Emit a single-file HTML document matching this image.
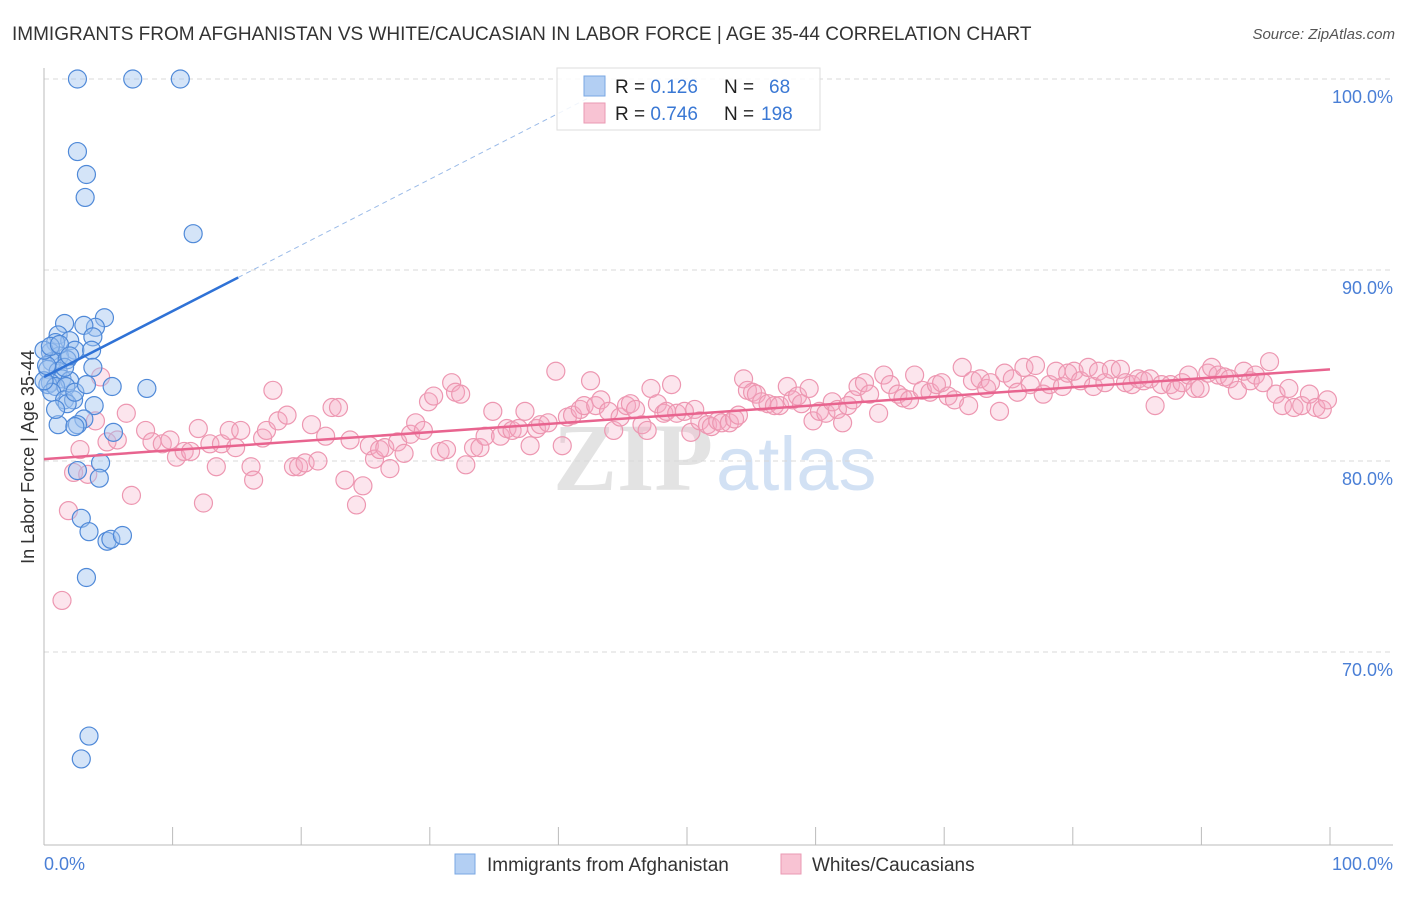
<!DOCTYPE html>
<html><head><meta charset="utf-8"><style>
html,body{margin:0;padding:0;background:#fff;}
body{width:1406px;height:892px;overflow:hidden;font-family:"Liberation Sans",sans-serif;}
</style></head><body>
<svg id="chart" width="1406" height="892" xmlns="http://www.w3.org/2000/svg" font-family="Liberation Sans, sans-serif">
<text x="12" y="40" font-size="19" fill="#333">IMMIGRANTS FROM AFGHANISTAN VS WHITE/CAUCASIAN IN LABOR FORCE | AGE 35-44 CORRELATION CHART</text>
<text x="1395" y="39" font-size="15" font-style="italic" fill="#555" text-anchor="end">Source: ZipAtlas.com</text>
<g>
<text x="553" y="490" font-size="96" font-weight="bold" fill="#ddd" opacity="0.8" font-family="Liberation Serif, serif">ZIP</text>
<text x="716" y="490" font-size="76" fill="#c8daf2" opacity="0.8">atlas</text>
</g>
<g id="grid"></g>
<g id="axes"></g>
<g id="marks"></g>
<text transform="translate(34,457) rotate(-90)" font-size="18" fill="#333" text-anchor="middle">In Labor Force | Age 35-44</text>
<g>
<rect x="557" y="68" width="263" height="62" fill="#fff" fill-opacity="0.85" stroke="#ddd"/>
<rect x="584" y="76" width="21" height="20" fill="#b3cff3" stroke="#7aa7e3"/>
<rect x="584" y="103" width="21" height="20" fill="#f8c3d3" stroke="#ea9ab3"/>
<text x="615" y="93" font-size="19" fill="#222">R = <tspan fill="#3a78d4">0.126</tspan><tspan x="724">N = </tspan><tspan x="769" fill="#3a78d4">68</tspan></text>
<text x="615" y="120" font-size="19" fill="#222">R = <tspan fill="#3a78d4">0.746</tspan><tspan x="724">N = </tspan><tspan x="761" fill="#3a78d4">198</tspan></text>
</g>
<g>
<rect x="455" y="854" width="20" height="20" fill="#b3cff3" stroke="#7aa7e3"/>
<text x="487" y="871" font-size="19" fill="#333">Immigrants from Afghanistan</text>
<rect x="781" y="854" width="20" height="20" fill="#f8c3d3" stroke="#ea9ab3"/>
<text x="812" y="871" font-size="19" fill="#333">Whites/Caucasians</text>
</g>
</svg>
<script>
const blueX=[2.6,6.9,10.6,2.6,3.3,3.2,11.6,4.7,1.6,4.0,3.1,1.1,2.0,3.8,0.9,2.4,3.7,0.5,1.2,0.6,1.8,3.8,0.3,1.1,1.4,0.5,2.0,0.3,0.9,1.7,5.3,8.0,0.6,1.6,2.3,3.9,1.8,3.1,1.1,2.6,2.4,5.4,4.4,2.6,4.3,2.9,3.5,4.9,5.2,6.1,3.3,3.5,2.9,0,0.2,0,0.5,1.2,1.6,2.4,0.9,2.0,3.3];
const blueY=[100,100,100,96.2,95.0,93.8,91.9,87.5,87.2,87.0,87.1,86.6,86.3,86.5,86.2,85.8,85.8,85.7,85.5,85.2,85.3,84.9,84.8,84.7,84.3,84.1,84.2,84.0,83.9,83.9,83.9,83.8,83.6,83.2,83.2,82.9,83.0,82.2,81.9,81.9,81.8,81.5,79.9,79.5,79.1,77.0,76.3,75.8,75.9,76.1,73.9,65.6,64.4,84.2,85.0,85.8,86.0,86.1,84.9,83.6,82.7,85.5,84.0];
const pinkX=[1.4,1.9,2.3,2.8,3.4,4.0,4.4,4.9,5.7,6.4,6.8,7.9,8.4,9.2,9.8,10.3,10.9,11.4,12.0,12.4,12.9,13.4,13.8,14.4,14.9,15.3,16.1,16.3,17.0,17.3,17.8,18.2,18.9,19.4,19.8,20.3,20.8,21.3,21.9,22.4,22.9,23.4,23.8,24.3,24.8,25.3,25.7,26.1,26.5,26.9,27.5,28.0,28.5,28.9,29.5,29.9,30.3,30.8,31.3,31.7,32.0,32.4,32.8,33.4,33.9,34.3,34.9,35.5,36.0,36.4,36.9,37.4,37.8,38.3,38.6,39.2,39.8,40.3,40.7,41.1,41.7,42.0,42.5,42.9,43.3,43.9,44.3,44.8,45.3,45.6,46.0,46.5,46.9,47.2,47.7,48.2,48.4,48.8,49.2,49.8,50.3,50.6,51.0,51.6,51.9,52.4,52.7,53.3,53.7,54.0,54.4,54.7,55.1,55.4,55.8,56.3,56.8,57.2,57.8,58.2,58.6,58.9,59.5,59.8,60.3,60.8,61.3,61.7,62.1,62.5,62.9,63.3,63.8,64.2,64.9,65.3,65.8,66.4,66.8,67.3,67.7,68.3,68.9,69.4,69.8,70.3,70.8,71.4,71.9,72.2,72.8,73.3,73.6,74.3,74.7,75.3,75.7,76.2,76.7,77.1,77.7,78.2,78.7,79.2,79.6,80.1,80.6,81.2,81.6,82.0,82.5,83.0,83.7,84.1,84.6,85.1,85.5,86.0,86.4,86.9,87.6,88.0,88.5,89.0,89.5,89.9,90.5,90.8,91.3,91.8,92.2,92.8,93.3,93.8,94.2,94.8,95.3,95.8,96.3,96.8,97.2,97.8,98.4,98.9,99.4,99.8];
const pinkY=[72.7,77.4,79.4,80.6,79.3,82.1,84.4,81.0,81.1,82.5,78.2,81.6,81.0,80.9,81.1,80.2,80.5,80.5,81.7,77.8,80.9,79.7,80.9,81.6,80.7,81.6,79.7,79.0,81.2,81.6,83.7,82.1,82.4,79.7,79.7,79.9,81.9,80.0,81.3,82.8,82.8,79.0,81.1,77.7,78.7,80.8,80.1,80.6,80.7,79.6,81.0,80.4,81.4,82.0,81.6,83.1,83.4,80.5,80.6,84.1,83.6,83.5,79.8,80.7,80.7,81.3,82.6,81.3,81.7,81.6,81.7,82.6,80.8,81.7,81.9,82.0,84.7,80.8,82.3,82.4,82.7,82.9,84.2,82.9,83.2,82.6,81.6,82.3,82.9,83.0,82.7,81.9,81.6,83.8,83.0,82.5,82.6,84.0,82.5,82.6,81.5,82.7,82.1,81.9,81.8,82.1,82.0,82.0,82.2,82.4,84.3,83.7,83.6,83.5,83.1,83.0,82.9,82.9,83.9,83.2,83.4,83.0,83.8,82.1,82.6,82.5,83.1,82.7,82.0,82.9,83.2,83.9,84.1,83.5,82.5,84.5,84.0,83.5,83.3,83.2,84.5,83.7,83.6,84.0,84.1,83.4,83.2,84.9,82.9,84.2,84.3,83.8,84.1,82.6,84.6,84.3,83.6,84.9,84.0,85.0,83.5,84.0,84.7,83.9,84.6,84.7,84.2,84.9,83.9,84.7,84.1,84.8,84.8,84.1,84.0,84.3,84.2,84.3,82.9,84.0,84.0,83.7,84.1,84.5,83.8,83.8,84.6,84.9,84.5,84.4,84.3,83.7,84.7,84.2,84.5,84.1,85.2,83.5,82.9,83.8,82.8,82.9,83.5,82.8,82.7,83.2];
const yTicks=[100,90,80,70];
const yTickLabels=["100.0%","90.0%","80.0%","70.0%"];
const xTicks=[0,10,20,30,40,50,60,70,80,90,100];
const xEndLabels=["0.0%","100.0%"];
const blueTrend=[84.4,0.345];
const pinkTrend=[80.1,0.047];

const NS="http://www.w3.org/2000/svg";
const X0=44,X1=1330,Y0=845,YTOP=79;
const sx=v=>X0+(X1-X0)*v/100;
const sy=v=>YTOP+(100-v)*19.1;
function mk(tag,attrs,parent){const e=document.createElementNS(NS,tag);for(const k in attrs)e.setAttribute(k,attrs[k]);parent.appendChild(e);return e;}
const grid=document.getElementById('grid'),axes=document.getElementById('axes'),marks=document.getElementById('marks');
yTicks.forEach((t,i)=>{
  const l=mk('line',{x1:X0,x2:1393,y1:sy(t),y2:sy(t),stroke:'#d8d8d8','stroke-dasharray':'5,4'},grid);
  
  
  const tx=mk('text',{x:1393,y:sy(t)+24,'font-size':18,fill:'#4a7fd6','text-anchor':'end'},axes);
  tx.textContent=yTickLabels[i];
  
  
});
const ya=mk('line',{x1:X0,x2:X0,y1:68,y2:Y0,stroke:'#bbb'},axes);


const xa=mk('line',{x1:X0,x2:1393,y1:Y0,y2:Y0,stroke:'#bbb'},axes);


xTicks.forEach(t=>{
  const l=mk('line',{x1:sx(t),x2:sx(t),y1:827,y2:Y0,stroke:'#bbb'},axes);
  
  
});
const xl0=mk('text',{x:X0,y:870,'font-size':18,fill:'#4a7fd6'},axes);xl0.textContent=xEndLabels[0];


const xl1=mk('text',{x:1393,y:870,'font-size':18,fill:'#4a7fd6','text-anchor':'end'},axes);xl1.textContent=xEndLabels[1];



const n1=Math.min(pinkX.length,pinkY.length);
for(let i=0;i<n1;i++){
  const c=mk('circle',{cx:sx(pinkX[i]),cy:sy(pinkY[i]),r:9,fill:'rgba(244,170,195,0.3)',stroke:'#ed97b1','stroke-width':1.2},marks);
  
  
}
const n2=Math.min(blueX.length,blueY.length);
for(let i=0;i<n2;i++){
  const c=mk('circle',{cx:sx(blueX[i]),cy:sy(blueY[i]),r:9,fill:'rgba(160,196,240,0.45)',stroke:'#4f89d8','stroke-width':1.2},marks);
  
  
}
const pt=mk('line',{x1:sx(0),y1:sy(pinkTrend[0]),x2:sx(100),y2:sy(pinkTrend[0]+pinkTrend[1]*100),stroke:'#e8648f','stroke-width':2.5},marks);


const bEnd=15.1,bDash=42.5;
const bt=mk('line',{x1:sx(0),y1:sy(blueTrend[0]),x2:sx(bEnd),y2:sy(blueTrend[0]+blueTrend[1]*bEnd),stroke:'#2f72d6','stroke-width':2.5},marks);


const bd=mk('line',{x1:sx(bEnd),y1:sy(blueTrend[0]+blueTrend[1]*bEnd),x2:sx(bDash),y2:sy(blueTrend[0]+blueTrend[1]*bDash),stroke:'#9bbbe8','stroke-width':1,'stroke-dasharray':'5,4'},marks);


</script>
</body></html>
